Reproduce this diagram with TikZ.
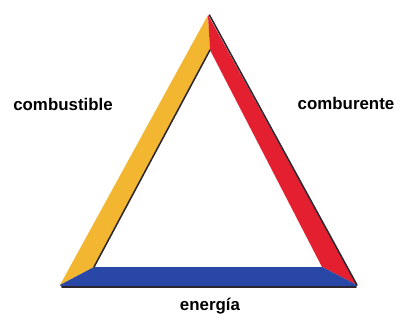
\documentclass[tikz,border=0pt]{standalone}
\usepackage{fontspec}
\setmainfont{Liberation Sans}
\definecolor{fuelyellow}{HTML}{F2B631}
\definecolor{oxred}{HTML}{E42030}
\definecolor{heatblue}{HTML}{2947A6}
\definecolor{edgedark}{HTML}{2B2630}
\begin{document}
\begin{tikzpicture}[
  x=0.025cm, y=-0.025cm,
  side/.style={draw=none},
  shade line/.style={draw=edgedark,line width=1.1pt,line cap=round},
  label/.style={font=\bfseries\fontsize{12}{14}\selectfont,inner sep=1pt}
]
  \useasboundingbox[fill=white] (0,0) rectangle (407,323);
  % corners, outer and inner
  \coordinate (top) at (208,15);
  \coordinate (left) at (60,285);
  \coordinate (right) at (357,285);
  \coordinate (itop) at (210,50);
  \coordinate (ileft) at (94,267);
  \coordinate (iright) at (322,267);
  \coordinate (bleft) at (62,287);
  \coordinate (bright) at (356,287);
  % the three sides
  \fill[fuelyellow] (top) -- (itop) -- (ileft) -- (left) -- cycle;
  \fill[oxred] (top) -- (right) -- (iright) -- (itop) -- cycle;
  \fill[heatblue] (left) -- (ileft) -- (iright) -- (right) -- (bright) -- (bleft) -- cycle;
  \draw[shade line] (itop) -- (ileft);
  \draw[shade line] ([xshift=1]top) -- (right);
  \draw[shade line] (bleft) -- (bright);
  % labels
  \node[label] (fuel) at (63,104) {combustible};
  \node[label] (oxygen) at (346,103) {comburente};
  \node[label] (heat) at (210,306) {energía};
\end{tikzpicture}
\end{document}
